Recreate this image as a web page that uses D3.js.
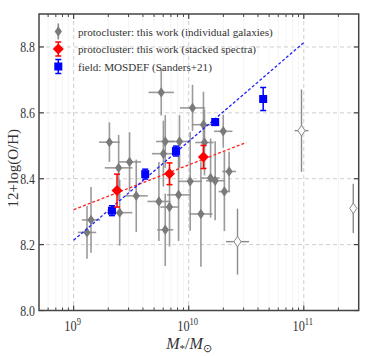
<!DOCTYPE html>
<html><head><meta charset="utf-8">
<script src="https://cdn.jsdelivr.net/npm/d3@7"></script>
<style>
html,body{margin:0;padding:0;background:#fff;}
svg{display:block;}
text{font-family:"Liberation Serif","Times New Roman",serif;}
</style></head>
<body>
<svg id="c" width="366" height="356"></svg>
<script>
// individual protocluster galaxies (log stellar mass, 12+log(O/H), errors)
const indivLogM  = [9.116, 9.151, 9.311, 9.391, 9.40, 9.486, 9.544, 9.741, 9.761, 9.78, 9.796, 9.796, 9.833, 9.912, 9.92, 10.013, 10.033, 10.106, 10.128, 10.137, 10.19, 10.23, 10.30, 10.31, 10.351];
const indivOH    = [8.237, 8.275, 8.511, 8.433, 8.297, 8.451, 8.348, 8.331, 8.662, 8.476, 8.513, 8.245, 8.314, 8.351, 8.513, 8.392, 8.615, 8.293, 8.564, 8.510, 8.402, 8.394, 8.544, 8.361, 8.422];
const indivMErr  = [0.08, 0.08, 0.09, 0.12, 0.11, 0.10, 0.10, 0.10, 0.11, 0.10, 0.08, 0.07, 0.08, 0.10, 0.10, 0.10, 0.11, 0.10, 0.10, 0.08, 0.08, 0.08, 0.08, 0.05, 0.06];
const indivOHErr = [0.08, 0.10, 0.06, 0.10, 0.10, 0.09, 0.11, 0.12, 0.07, 0.10, 0.08, 0.11, 0.12, 0.14, 0.08, 0.15, 0.07, 0.16, 0.10, 0.10, 0.12, 0.12, 0.05, 0.12, 0.06];
// open diamonds
const openLogM  = [10.424, 10.98, 11.43];
const openOH    = [8.209, 8.546, 8.31];
const openMErr  = [0.10, 0.06, 0.02];
const openOHErr = [0.10, 0.125, 0.075];
// stacked spectra
const stackLogM  = [9.377, 9.833, 10.128];
const stackOH    = [8.364, 8.415, 8.466];
const stackOHErr = [0.05, 0.033, 0.035];
// MOSDEF field
const fieldLogM  = [9.333, 9.622, 9.889, 10.23, 10.647];
const fieldOH    = [8.303, 8.414, 8.484, 8.572, 8.642];
const fieldOHErr = [0.015, 0.015, 0.015, 0.01, 0.035];
// fit lines
const redFitLogM  = [9, 10.5];
const redFitOH    = [8.306, 8.51];
const blueFitLogM = [9, 11];
const blueFitOH   = [8.2135, 8.813];
// ticks
const yTicks = [8.0, 8.2, 8.4, 8.6, 8.8];
const xMajorExp = [9, 10, 11];
const legendLabels = ["protocluster: this work (individual galaxies)", "protocluster: this work (stacked spectra)", "field: MOSDEF (Sanders+21)"];

const svg = d3.select("#c");
const L = 39, R = 358.7, T = 14, B = 310.5;
const x = d3.scaleLog().domain([5e8, 3e11]).range([L, R]);
const y = d3.scaleLinear().domain([8.0, 8.9]).range([B, T]);
const X = lm => x(Math.pow(10, lm));

// minor grid (very faint)
const minorX = [];
for (let e = 8; e <= 11; e++) for (let k = 2; k <= 9; k++) { const v = k * Math.pow(10, e); if (v > 5e8 && v < 3e11) minorX.push(v); }
const majorX = xMajorExp.map(e => Math.pow(10, e));
svg.append("g").selectAll("line").data(minorX).join("line")
  .attr("x1", d => x(d)).attr("x2", d => x(d)).attr("y1", T).attr("y2", B)
  .attr("stroke", "#f3f3f3").attr("stroke-width", 0.8);
// major grid
const grid = svg.append("g").attr("stroke", "#cfcfcf").attr("stroke-width", 1).attr("stroke-dasharray", "4,3");
grid.selectAll(".gx").data(majorX).join("line").attr("class", "gx")
  .attr("x1", d => x(d)).attr("x2", d => x(d)).attr("y1", T).attr("y2", B);
grid.selectAll(".gy").data(yTicks.slice(1)).join("line").attr("class", "gy")
  .attr("x1", L).attr("x2", R).attr("y1", d => y(d)).attr("y2", d => y(d));

const grey = "#7a7a7a";
// individual galaxies
const ind = indivLogM.map((m, i) => ({m, oh: indivOH[i], xe: indivMErr[i], ye: indivOHErr[i]}));
const gi = svg.append("g");
gi.selectAll(".ex").data(ind).join("line").attr("class", "ex")
  .attr("x1", d => X(d.m - d.xe)).attr("x2", d => X(d.m + d.xe)).attr("y1", d => y(d.oh)).attr("y2", d => y(d.oh))
  .attr("stroke", "#8a8a8a").attr("stroke-width", 1.6).attr("opacity", 0.85);
gi.selectAll(".ey").data(ind).join("line").attr("class", "ey")
  .attr("x1", d => X(d.m)).attr("x2", d => X(d.m)).attr("y1", d => y(d.oh - d.ye)).attr("y2", d => y(d.oh + d.ye))
  .attr("stroke", "#8a8a8a").attr("stroke-width", 1.6).attr("opacity", 0.85);
const thinDiamond = (w, h) => `M0,${-h}L${w},0L0,${h}L${-w},0Z`;
gi.selectAll("path").data(ind).join("path")
  .attr("transform", d => `translate(${X(d.m)},${y(d.oh)})`)
  .attr("d", thinDiamond(3.6, 5.2)).attr("fill", grey);

// open diamonds
const op = openLogM.map((m, i) => ({m, oh: openOH[i], xe: openMErr[i], ye: openOHErr[i]}));
const go = svg.append("g");
go.selectAll(".ex").data(op).join("line").attr("class", "ex")
  .attr("x1", d => X(d.m - d.xe)).attr("x2", d => X(d.m + d.xe)).attr("y1", d => y(d.oh)).attr("y2", d => y(d.oh))
  .attr("stroke", "#8a8a8a").attr("stroke-width", 1.4);
go.selectAll(".ey").data(op).join("line").attr("class", "ey")
  .attr("x1", d => X(d.m)).attr("x2", d => X(d.m)).attr("y1", d => y(d.oh - d.ye)).attr("y2", d => y(d.oh + d.ye))
  .attr("stroke", "#8a8a8a").attr("stroke-width", 1.4);
go.selectAll("path").data(op).join("path")
  .attr("transform", d => `translate(${X(d.m)},${y(d.oh)})`)
  .attr("d", thinDiamond(3.6, 5.2)).attr("fill", "#fff").attr("stroke", "#8a8a8a").attr("stroke-width", 1);

// fit lines
const line = d3.line().x(d => X(d[0])).y(d => y(d[1]));
svg.append("path").datum(redFitLogM.map((m, i) => [m, redFitOH[i]])).attr("d", line)
  .attr("stroke", "#ff2020").attr("stroke-width", 1.3).attr("stroke-dasharray", "3,2").attr("fill", "none");
svg.append("path").datum(blueFitLogM.map((m, i) => [m, blueFitOH[i]])).attr("d", line)
  .attr("stroke", "#2020ff").attr("stroke-width", 1.3).attr("stroke-dasharray", "3,2").attr("fill", "none");

// error bar with caps helper
function capBars(g, data, color) {
  g.selectAll(".ey").data(data).join("line").attr("class", "ey")
    .attr("x1", d => X(d.m)).attr("x2", d => X(d.m)).attr("y1", d => y(d.oh - d.ye)).attr("y2", d => y(d.oh + d.ye))
    .attr("stroke", color).attr("stroke-width", 1.5);
  g.selectAll(".c1").data(data).join("line").attr("class", "c1")
    .attr("x1", d => X(d.m) - 3).attr("x2", d => X(d.m) + 3).attr("y1", d => y(d.oh - d.ye)).attr("y2", d => y(d.oh - d.ye))
    .attr("stroke", color).attr("stroke-width", 1.5);
  g.selectAll(".c2").data(data).join("line").attr("class", "c2")
    .attr("x1", d => X(d.m) - 3).attr("x2", d => X(d.m) + 3).attr("y1", d => y(d.oh + d.ye)).attr("y2", d => y(d.oh + d.ye))
    .attr("stroke", color).attr("stroke-width", 1.5);
}
// field MOSDEF
const fd = fieldLogM.map((m, i) => ({m, oh: fieldOH[i], ye: fieldOHErr[i]}));
const gf = svg.append("g");
capBars(gf, fd, "#0000ff");
gf.selectAll("rect").data(fd).join("rect")
  .attr("x", d => X(d.m) - 4).attr("y", d => y(d.oh) - 4).attr("width", 8).attr("height", 8).attr("fill", "#0000ff");
// stacked
const st = stackLogM.map((m, i) => ({m, oh: stackOH[i], ye: stackOHErr[i]}));
const gs = svg.append("g");
capBars(gs, st, "#ff0000");
gs.selectAll("path").data(st).join("path")
  .attr("transform", d => `translate(${X(d.m)},${y(d.oh)})`)
  .attr("d", thinDiamond(5.5, 5.5)).attr("fill", "#ff0000");

// axes frame and ticks
const axisColor = "#444";
const fr = svg.append("g");
const tickLen = 5, minorLen = 3;
fr.selectAll(".xmaj").data(majorX).join("g").attr("class", "xmaj").each(function(d) {
  const g = d3.select(this);
  g.append("line").attr("x1", x(d)).attr("x2", x(d)).attr("y1", B).attr("y2", B - tickLen).attr("stroke", axisColor).attr("stroke-width", 1.2);
  g.append("line").attr("x1", x(d)).attr("x2", x(d)).attr("y1", T).attr("y2", T + tickLen).attr("stroke", axisColor).attr("stroke-width", 1.2);
});
fr.selectAll(".xmin").data(minorX).join("g").attr("class", "xmin").each(function(d) {
  const g = d3.select(this);
  g.append("line").attr("x1", x(d)).attr("x2", x(d)).attr("y1", B).attr("y2", B - minorLen).attr("stroke", axisColor).attr("stroke-width", 1);
  g.append("line").attr("x1", x(d)).attr("x2", x(d)).attr("y1", T).attr("y2", T + minorLen).attr("stroke", axisColor).attr("stroke-width", 1);
});
fr.selectAll(".ymaj").data(yTicks).join("g").attr("class", "ymaj").each(function(d) {
  const g = d3.select(this);
  g.append("line").attr("x1", L).attr("x2", L + tickLen).attr("y1", y(d)).attr("y2", y(d)).attr("stroke", axisColor).attr("stroke-width", 1.2);
  g.append("line").attr("x1", R).attr("x2", R - tickLen).attr("y1", y(d)).attr("y2", y(d)).attr("stroke", axisColor).attr("stroke-width", 1.2);
});
fr.append("rect").attr("x", L).attr("y", T).attr("width", R - L).attr("height", B - T)
  .attr("fill", "none").attr("stroke", axisColor).attr("stroke-width", 1.5);

// y tick labels (slightly condensed like the reference)
svg.append("g").selectAll("text").data(yTicks).join("text")
  .attr("transform", d => `translate(${L - 4},${y(d) + 5}) scale(0.82,1)`).attr("text-anchor", "end")
  .attr("font-size", 14.5).attr("fill", "#333").text(d => d.toFixed(1));
// x tick labels (10^n)
const xl = svg.append("g").selectAll("text").data(xMajorExp).join("text")
  .attr("transform", e => `translate(${x(Math.pow(10, e)) - 1},331) scale(0.85,1)`).attr("text-anchor", "middle")
  .attr("font-size", 14.5).attr("fill", "#333");
xl.append("tspan").text("10");
xl.append("tspan").attr("dy", -6).attr("font-size", 10).text(e => e);

// axis titles
svg.append("text").attr("transform", `translate(18,${(T + B) / 2 + 6}) rotate(-90)`)
  .attr("text-anchor", "middle").attr("font-size", 15).attr("fill", "#333").text("12+log(O/H)");
const xt = svg.append("text").attr("x", 189).attr("y", 349).attr("text-anchor", "middle")
  .attr("font-size", 16).attr("fill", "#333");
xt.append("tspan").attr("font-style", "italic").text("M");
xt.append("tspan").attr("font-size", 11).attr("dy", 3).text("*");
xt.append("tspan").attr("dy", -3).text("/");
xt.append("tspan").attr("font-style", "italic").text("M");
xt.append("tspan").attr("font-size", 11).attr("dy", 3).text("⊙");

// legend
const legY = [31.5, 49, 66.5];
const lg = svg.append("g");
const lx = 58.3;
lg.append("line").attr("x1", lx).attr("x2", lx).attr("y1", legY[0] - 8).attr("y2", legY[0] + 8).attr("stroke", "#8a8a8a").attr("stroke-width", 1.6);
lg.append("path").attr("transform", `translate(${lx},${legY[0]})`).attr("d", thinDiamond(3.6, 5.2)).attr("fill", grey);
[[legY[1], "#ff0000"], [legY[2], "#0000ff"]].forEach(([yy, c]) => {
  lg.append("line").attr("x1", lx).attr("x2", lx).attr("y1", yy - 7).attr("y2", yy + 7).attr("stroke", c).attr("stroke-width", 1.5);
  lg.append("line").attr("x1", lx - 3).attr("x2", lx + 3).attr("y1", yy - 7).attr("y2", yy - 7).attr("stroke", c).attr("stroke-width", 1.5);
  lg.append("line").attr("x1", lx - 3).attr("x2", lx + 3).attr("y1", yy + 7).attr("y2", yy + 7).attr("stroke", c).attr("stroke-width", 1.5);
});
lg.append("path").attr("transform", `translate(${lx},${legY[1]})`).attr("d", thinDiamond(5.5, 5.5)).attr("fill", "#ff0000");
lg.append("rect").attr("x", lx - 4).attr("y", legY[2] - 4).attr("width", 8).attr("height", 8).attr("fill", "#0000ff");
lg.selectAll("text").data(legendLabels).join("text")
  .attr("x", 78).attr("y", (d, i) => legY[i] + 4).attr("font-size", 11.1).attr("fill", "#333").text(d => d);
</script>
</body></html>
